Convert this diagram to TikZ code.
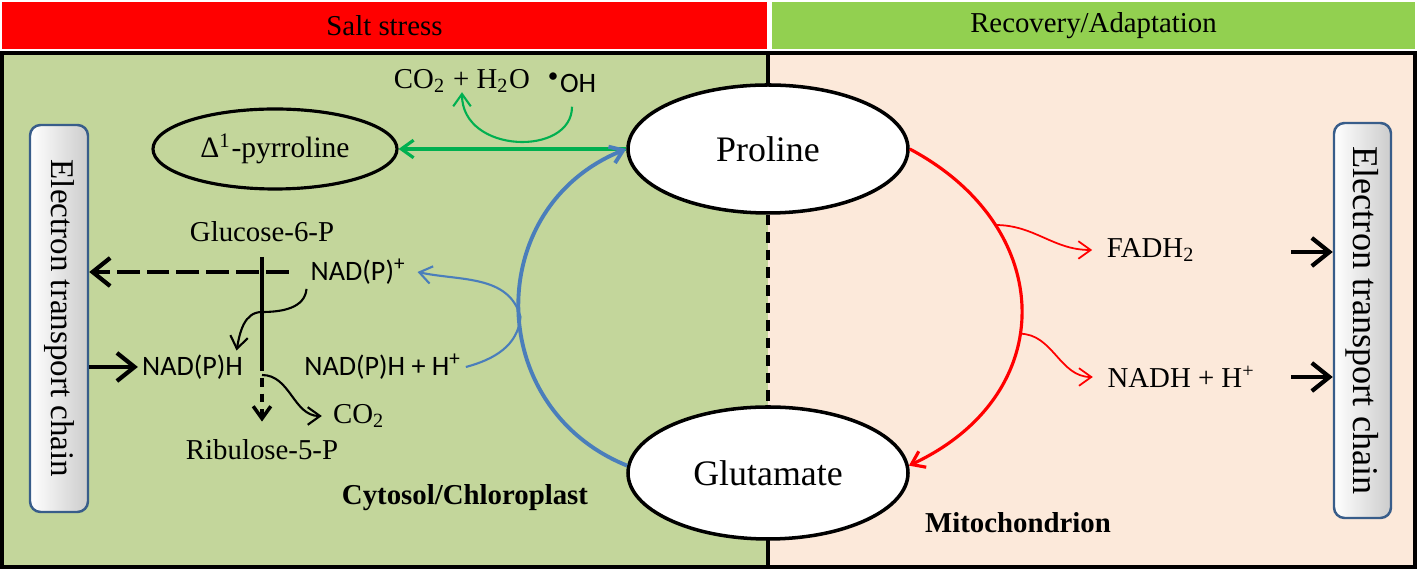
\documentclass[tikz,border=0pt]{standalone}
\usepackage{fontspec}
\setmainfont{Liberation Serif}
\newfontfamily\calibri{Carlito}
\usetikzlibrary{shapes.geometric, arrows.meta}

\definecolor{leftbg}{HTML}{C3D69B}
\definecolor{rightbg}{HTML}{FCE9DA}
\definecolor{barred}{HTML}{FF0000}
\definecolor{bargreen}{HTML}{92D050}
\definecolor{arcgreen}{HTML}{00B050}
\definecolor{arcblue}{HTML}{4A7EBB}
\definecolor{etcblue}{HTML}{385D8A}

\begin{document}
\begin{tikzpicture}[
                >={Straight Barb[length=3.5pt, width=5pt]},
                lbl/.style={inner sep=1pt, font=\fontsize{8.2}{10}\selectfont},
                sanslbl/.style={inner sep=1pt, font=\calibri\fontsize{8}{10}\selectfont},
                metab/.style={ellipse, draw, line width=1pt, fill=white, minimum width=2.8cm, minimum height=1.28cm, font=\fontsize{10.2}{12}\selectfont},
                etcbox/.style={draw=etcblue, line width=0.7pt, rounded corners=3pt, left color=white, right color=black!20, minimum width=0.58cm, minimum height=3.87cm},
                thickarr/.style={line width=1.2pt, -{Straight Barb[length=5pt, width=8pt]}}
            ]
                \useasboundingbox (0,0) rectangle (14.17,5.69);

                \fill[leftbg] (0.02,0.02) rectangle (7.68,5.16);
                \fill[rightbg] (7.68,0.02) rectangle (14.15,5.16);
                \draw[line width=1.1pt] (0.02,0.02) rectangle (14.15,5.16);

                \node[lbl, fill=barred, inner sep=0pt, minimum width=7.65cm, minimum height=0.47cm] (Salt) at (3.845,5.435) {Salt stress};
                \node[lbl, fill=bargreen, inner sep=0pt, minimum width=6.43cm, minimum height=0.47cm] (Rec) at (10.935,5.435) {Recovery/Adaptation};

                \draw[line width=0.9pt] (7.68,5.16) -- (7.68,4.2);
                \draw[line width=0.9pt] (7.68,0.96) -- (7.68,0.02);

                \node[metab] (Pro) at (7.68,4.20) {Proline};
                \node[metab, minimum height=1.32cm] (Glu) at (7.68,0.96) {Glutamate};
                \node[ellipse, draw, line width=0.9pt, minimum width=2.1cm, minimum height=0.8cm, font=\fontsize{8.4}{10}\selectfont] (Pyr) at (2.75,4.20) {Δ\textsuperscript{1}-pyrroline};

                \draw[line width=1pt, dash pattern=on 3pt off 2pt] (Pro.south) -- (Glu.north);

                \node[etcbox] (ETC1) at (0.59,2.505) {};
                \node[rotate=-90, font=\fontsize{9.4}{11}\selectfont] (ETC1t) at (ETC1) {Electron transport chain};
                \node[etcbox, minimum width=0.57cm, minimum height=3.95cm] (ETC2) at (13.625,2.485) {};
                \node[rotate=-90, font=\fontsize{10.3}{12}\selectfont] (ETC2t) at (ETC2) {Electron transport chain};

                \node[lbl] (COH) at (4.62,4.88) {CO\textsubscript{2} + H\textsubscript{2}O};
                \node[sanslbl] (OH) at (5.72,4.86) {\textsuperscript{•}OH};
                \node[lbl, inner ysep=4pt] (Glc) at (2.62,3.37) {Glucose-6-P};
                \node[sanslbl] (Nadp) at (3.585,2.97) {NAD(P)\textsuperscript{+}};
                \node[sanslbl] (Nadph) at (1.925,2.02) {NAD(P)H};
                \node[sanslbl] (Nadphh) at (3.83,2.02) {NAD(P)H + H\textsuperscript{+}};
                \node[lbl] (Cotwo) at (3.59,1.53) {CO\textsubscript{2}};
                \node[lbl, inner ysep=5pt] (Rib) at (2.62,1.19) {Ribulose-5-P};
                \node[lbl, font=\bfseries\fontsize{8.2}{10}\selectfont] (Cyto) at (4.65,0.71) {Cytosol/Chloroplast};
                \node[lbl, font=\bfseries\fontsize{8.2}{10}\selectfont] (Mito) at (10.18,0.46) {Mitochondrion};
                \node[lbl] (Fadh) at (11.51,3.19) {FADH\textsubscript{2}};
                \node[lbl] (Nadh) at (11.815,1.92) {NADH + H\textsuperscript{+}};

                \coordinate (V1) at (2.62,2.07);
                \coordinate (V2) at (2.62,2.57);
                \coordinate (V3) at (2.62,1.94);
                \coordinate (B1) at (5.205,2.52);
                \coordinate (E1) at (12.91,3.17);
                \coordinate (E2) at (12.91,1.92);

                \draw[arcgreen, line width=0.9pt, ->] (Pro.west) -- (Pyr.east);
                \draw[arcgreen, line width=0.6pt, ->] ([yshift=-4pt]OH.base) .. controls +(0,-0.5) and +(0,-0.62) .. ([yshift=-1pt]COH.base);

                \draw[arcblue, line width=1.1pt, ->] (Glu.177) to[out=158, in=-158, looseness=1.25] (Pro.west);
                \draw[arcblue, line width=0.6pt, ->] (Nadphh.east) to[out=15, in=-95] (B1) to[out=105, in=-12] ([xshift=2pt]Nadp.east);

                \draw[thickarr, dash pattern=on 6.5pt off 2pt] ([xshift=-5pt]Nadp.west) -- (Nadp.west -| ETC1.east);
                \draw[thickarr] (Nadph.west -| ETC1.east) -- (Nadph.west);
                \draw[line width=1pt] (Glc.south) -- (V1);
                \draw[line width=1pt, dash pattern=on 2.5pt off 2pt, ->] (V1) -- (Rib.north);
                \draw[line width=0.6pt, ->] (Nadp.south west) to[out=-95, in=0] (V2) to[out=180, in=80] ([xshift=-3pt]Nadph.north east);
                \draw[line width=0.6pt, ->] (V3) to[out=0, in=180] ([xshift=-2pt]Cotwo.west);

                \draw[red, line width=0.9pt, ->] (Pro.east) to[out=-28, in=25, looseness=1.35] coordinate[pos=0.26] (R1) coordinate[pos=0.565] (R2) (Glu.3);
                \draw[red, line width=0.5pt, ->] (R1) to[out=0, in=180] ([xshift=-3pt]Fadh.west);
                \draw[red, line width=0.5pt, ->] (R2) to[out=0, in=180] ([xshift=-3pt]Nadh.west);
                \draw[thickarr] (E1) -- (E1 -| ETC2.west);
                \draw[thickarr] (E2) -- (E2 -| ETC2.west);
            \end{tikzpicture}
\end{document}
